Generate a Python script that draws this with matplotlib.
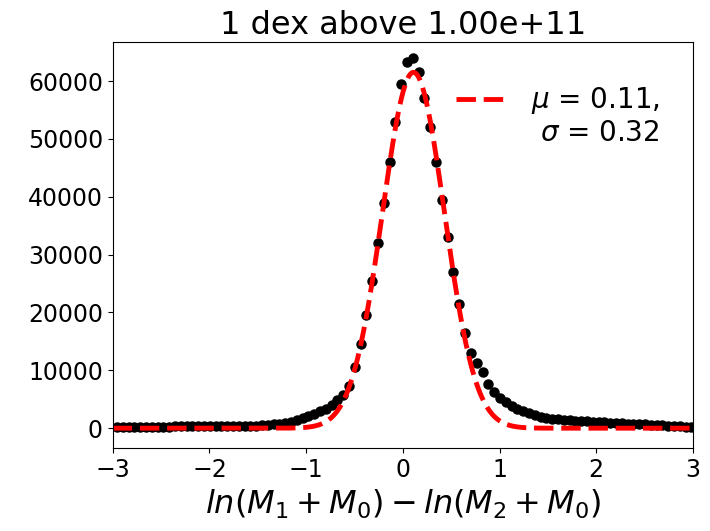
import numpy as np
import matplotlib
matplotlib.use("Agg")
import matplotlib.pyplot as plt

# histogram bin centres (100 bins, width 0.06)
bin_centres = np.round(-2.956 + 0.06 * np.arange(100), 3)

# counts
counts = [
    250, 255, 260, 265, 260, 270, 275, 280, 285, 290,
    295, 300, 305, 310, 315, 320, 330, 340, 350, 360,
    370, 380, 400, 420, 450, 500, 560, 650, 780, 950,
    1150, 1400, 1700, 2050, 2450, 2900, 3400, 4000, 4800, 5800,
    7300, 10500, 14500, 19500, 25500, 32000, 39000, 46000, 53000, 59500,
    63300, 64000, 61500, 57000, 52000, 46000, 39500, 33000, 27000, 21500,
    16500, 13000, 11300, 9700, 7600, 6300, 5300, 4500, 3900, 3400,
    2950, 2600, 2250, 2000, 1800, 1650, 1520, 1420, 1350, 1280,
    1220, 1160, 1120, 1080, 1020, 960, 900, 850, 800, 750,
    700, 650, 590, 530, 480, 430, 380, 330, 280, 240,
]

# gaussian fit parameters
mu = 0.11
sigma = 0.32
amp = 61500

fit_x = np.linspace(-3, 3, 600)
fit_y = amp * np.exp(-(fit_x - mu) ** 2 / (2 * sigma ** 2))

fig = plt.figure(figsize=(7.1, 5.31), dpi=100)
ax = fig.add_axes([0.1587, 0.156, 0.8173, 0.765])

ax.plot(bin_centres, counts, 'ko', markersize=6.5)
ax.plot(fit_x, fit_y, 'r--', lw=3.5, dashes=(4, 1.6),
        label='$\\mu$ = %.2f,' % mu)

ax.set_xlim(-3, 3)
ax.set_ylim(-3450, 66750)
ax.set_xticks([-3, -2, -1, 0, 1, 2, 3])
ax.tick_params(labelsize=17)
ax.set_xlabel('$ln(M_1 + M_0) - ln(M_2 + M_0)$', fontsize=23)
ax.set_title('1 dex above 1.00e+11', fontsize=23)

leg = ax.legend(loc='upper right', bbox_to_anchor=(1, 0.975), frameon=False,
                fontsize=20, borderaxespad=0.8, handlelength=1.9)

# second line of the legend label, right aligned under the first
fig.canvas.draw()
bb = leg.get_texts()[0].get_window_extent()
x1, y0 = fig.transFigure.inverted().transform((bb.x1, bb.y0))
fig.text(x1, y0 - 0.004, '$\\sigma$ = %.2f' % sigma, ha='right', va='top',
         fontsize=20)

fig.savefig('out.png', dpi=100)
